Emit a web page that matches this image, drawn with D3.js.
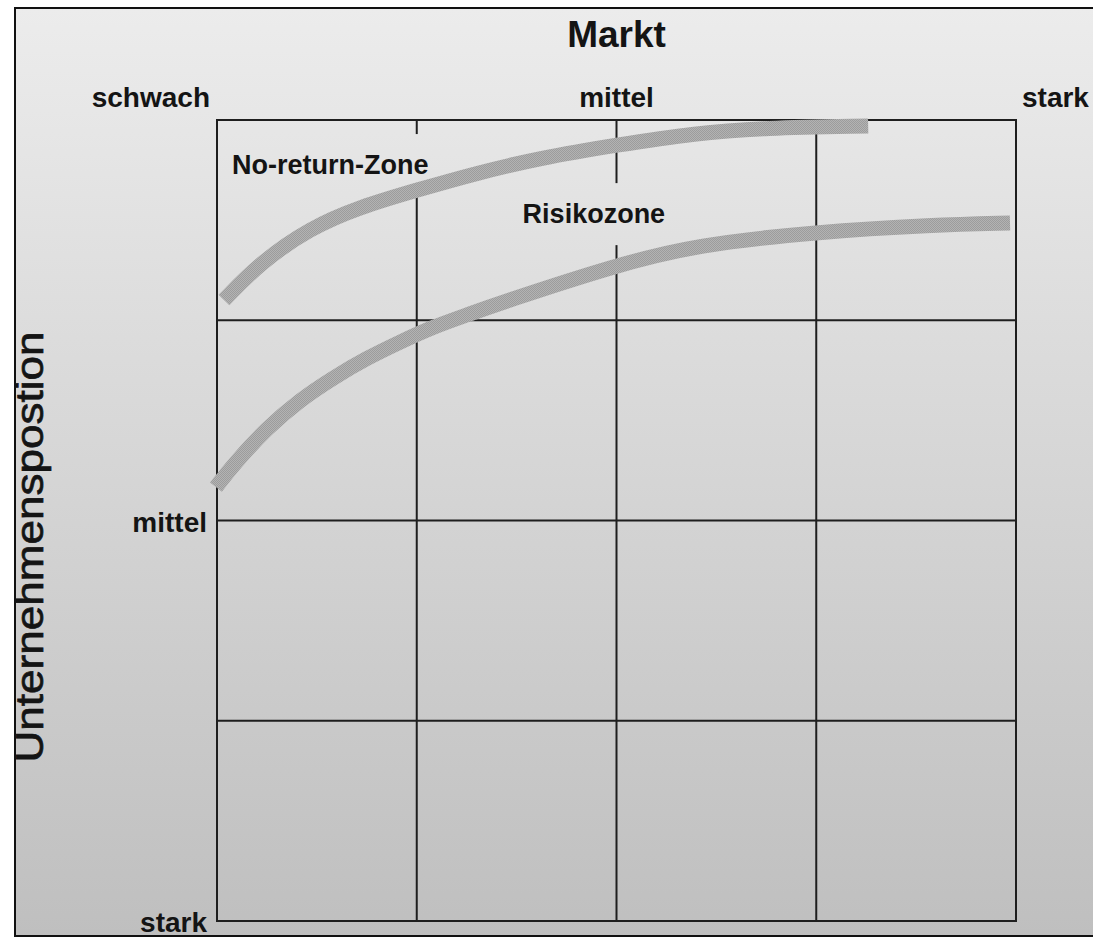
<!DOCTYPE html>
<html>
<head>
<meta charset="utf-8">
<script src="https://cdn.jsdelivr.net/npm/d3@7"></script>
<style>
    html, body { margin: 0; padding: 0; background: #fff; overflow: hidden; }
    svg { display: block; font-family: "Liberation Sans", Arial, sans-serif; }
</style>
</head>
<body>
<script>
// --- DATA ---
const gridSteps = [0, 1, 2, 3, 4];
const marktLabels = ["schwach", "mittel", "stark"];
const marktTickPos = [0, 2, 4];
const positionLabels = ["mittel", "stark"];
const positionTickPos = [2, 4];
const zoneLabels = ["No-return-Zone", "Risikozone"];

// curve, in grid units (x: Markt, y: Unternehmensposition)
const noReturnX = [0.035, 0.215, 0.466, 0.716, 1.0, 1.30, 1.617, 2.0, 2.40, 2.733, 3.26];
const noReturnY = [0.899, 0.714, 0.539, 0.434, 0.350, 0.265, 0.190, 0.125, 0.065, 0.040, 0.030];
const risikoX = [-0.005, 0.08, 0.25, 0.415, 0.58, 0.75, 0.916, 1.08, 1.25, 1.417, 2.0, 2.40, 3.0, 3.585, 3.97];
const risikoY = [1.833, 1.723, 1.538, 1.398, 1.288, 1.189, 1.109, 1.034, 0.974, 0.914, 0.724, 0.624, 0.559, 0.524, 0.514];

// --- SETUP ---
const width = 1093, height = 938;
const svg = d3.select("body").append("svg").attr("width", width).attr("height", height);

const x = d3.scaleLinear().domain([0, 4]).range([217, 1016]);
const y = d3.scaleLinear().domain([0, 4]).range([120, 921]);

const defs = svg.append("defs");
const grad = defs.append("linearGradient").attr("id", "bg").attr("gradientUnits", "userSpaceOnUse")
    .attr("x1", 0).attr("y1", 8).attr("x2", 0).attr("y2", 936);
grad.append("stop").attr("offset", 0).attr("stop-color", "#ececec");
grad.append("stop").attr("offset", 1).attr("stop-color", "#bfbfbf");

// hatched grey texture of the zone borders
const pat = defs.append("pattern").attr("id", "hatch").attr("patternUnits", "userSpaceOnUse")
    .attr("width", 2).attr("height", 2);
pat.append("rect").attr("width", 2).attr("height", 2).attr("fill", "#b3b3b3");
pat.append("rect").attr("width", 1).attr("height", 1).attr("fill", "#9c9c9c");
pat.append("rect").attr("x", 1).attr("y", 1).attr("width", 1).attr("height", 1).attr("fill", "#9c9c9c");

// --- FRAME (open on the right) ---
svg.append("rect").attr("x", 15).attr("y", 8).attr("width", width - 15).attr("height", 928).attr("fill", "url(#bg)");
const frame = svg.append("g").attr("stroke", "#111").attr("stroke-width", 2);
frame.append("line").attr("x1", 15).attr("x2", 15).attr("y1", 7).attr("y2", 937);
frame.append("line").attr("x1", 14).attr("x2", width).attr("y1", 8).attr("y2", 8);
frame.append("line").attr("x1", 14).attr("x2", width).attr("y1", 936).attr("y2", 936);

// --- GRID ---
const grid = svg.append("g").attr("stroke", "#1e1e1e").attr("stroke-width", 2);
grid.selectAll(".v").data(gridSteps).join("line").attr("class", "v")
    .attr("x1", d => x(d)).attr("x2", d => x(d)).attr("y1", y(0) - 1).attr("y2", y(4) + 1);
grid.selectAll(".h").data(gridSteps).join("line").attr("class", "h")
    .attr("y1", d => y(d)).attr("y2", d => y(d)).attr("x1", x(0) - 1).attr("x2", x(4) + 1);

// --- ZONE LABELS (with background boxes hiding the grid) ---
const labelBoxes = svg.append("g");
const labelAnchors = [[0.075, 0.27], [1.53, 0.515]];
const zoneText = svg.append("g").selectAll("text").data(zoneLabels).join("text")
    .attr("x", (d, i) => x(labelAnchors[i][0]))
    .attr("y", (d, i) => y(labelAnchors[i][1]))
    .attr("font-size", 27).attr("font-weight", "bold").attr("fill", "#141414")
    .text(d => d);
zoneText.each(function() {
    const b = this.getBBox();
    const cy = b.y + b.height / 2;
    labelBoxes.append("rect").attr("x", b.x - 8).attr("y", cy - 31)
        .attr("width", b.width + 16).attr("height", 62).attr("fill", "url(#bg)");
});

// --- CURVES ---
const line = d3.line().x(d => x(d[0])).y(d => y(d[1])).curve(d3.curveBasis);
const curves = [d3.zip(noReturnX, noReturnY), d3.zip(risikoX, risikoY)];
svg.append("g").selectAll("path").data(curves).join("path")
    .attr("d", line).attr("fill", "none").attr("stroke", "url(#hatch)")
    .attr("stroke-width", 15).attr("stroke-linecap", "butt");

// --- AXIS TEXT ---
const txt = svg.append("g").attr("fill", "#141414");
txt.append("text").attr("x", x(2)).attr("y", 47).attr("text-anchor", "middle")
    .attr("font-size", 37).attr("font-weight", "bold").text("Markt");

txt.selectAll(".mx").data(marktLabels).join("text").attr("class", "mx")
    .attr("x", (d, i) => marktTickPos[i] === 0 ? x(0) - 7 : marktTickPos[i] === 4 ? x(4) + 6 : x(marktTickPos[i]))
    .attr("y", 107)
    .attr("text-anchor", (d, i) => marktTickPos[i] === 0 ? "end" : marktTickPos[i] === 4 ? "start" : "middle")
    .attr("font-size", 28).attr("font-weight", "bold").text(d => d);

txt.selectAll(".py").data(positionLabels).join("text").attr("class", "py")
    .attr("x", x(0) - 10).attr("y", (d, i) => y(positionTickPos[i]) + 11)
    .attr("text-anchor", "end").attr("font-size", 28).attr("font-weight", "bold").text(d => d);

txt.append("text").attr("transform", "translate(43,547) rotate(-90)")
    .attr("text-anchor", "middle").attr("font-size", 38)
    .attr("stroke", "#141414").attr("stroke-width", 0.7)
    .attr("textLength", 431).attr("lengthAdjust", "spacingAndGlyphs")
    .text("Unternehmenspostion");
</script>
</body>
</html>
